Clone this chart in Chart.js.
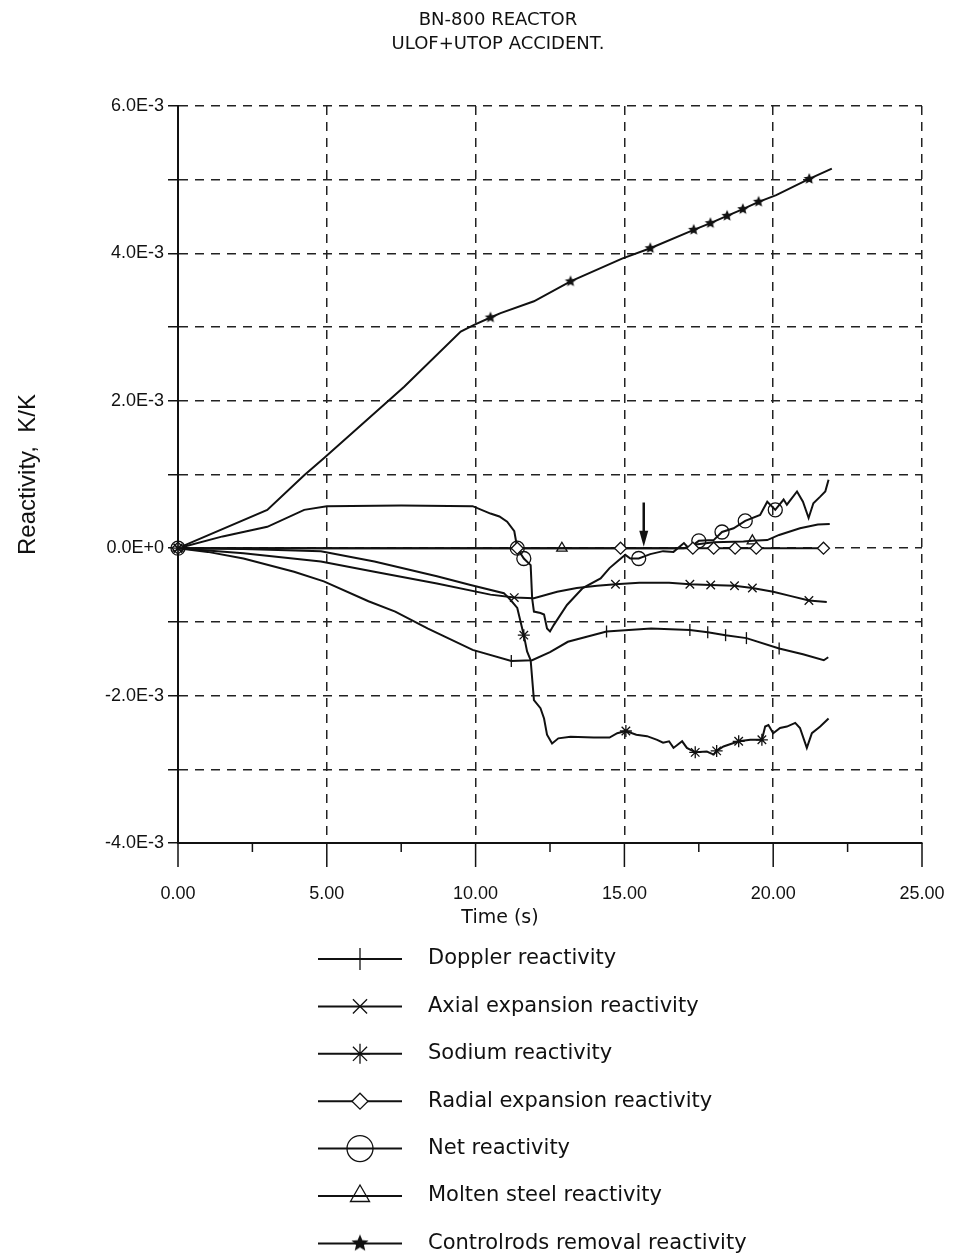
<!DOCTYPE html>
<html>
<head>
<meta charset="utf-8">
<title>BN-800 reactor ULOF+UTOP accident</title>
<script src="https://cdn.jsdelivr.net/npm/chart.js@4.4.1/dist/chart.umd.min.js"></script>
<style>
  html, body { margin: 0; padding: 0; background: #fff; }
</style>
</head>
<body>
<canvas id="chart" width="955" height="1257"></canvas>
<script>
// values are in units of 1E-3 K/K, time in seconds
const UNIT = 1e-3;

const titleLines = ["BN-800 REACTOR", "ULOF+UTOP ACCIDENT."];
const xTitle = "Time (s)";
const yTitle = "Reactivity,  K/K";
const seriesNames = [
  "Doppler reactivity",
  "Axial expansion reactivity",
  "Sodium reactivity",
  "Radial expansion reactivity",
  "Net reactivity",
  "Molten steel reactivity",
  "Controlrods removal reactivity"
];

const dopplerTime  = [0, 1.0, 2.2, 3.9, 4.9, 6.4, 7.3, 8.4, 9.9, 11.2, 11.9, 12.5, 13.1, 14.4, 15.9, 17.2, 17.8, 18.4, 19.1, 20.2, 21.0, 21.7, 21.85];
const dopplerValue = [0, -0.05, -0.14, -0.32, -0.45, -0.72, -0.86, -1.09, -1.38, -1.53, -1.52, -1.41, -1.27, -1.13, -1.09, -1.11, -1.14, -1.18, -1.22, -1.36, -1.44, -1.52, -1.48];
const dopplerMarks = [0, 11.2, 14.4, 17.2, 17.8, 18.4, 19.1, 20.2];

const axialTime  = [0, 2.2, 4.8, 6.6, 8.7, 10.5, 11.3, 11.96, 12.74, 13.4, 14.08, 14.7, 15.5, 16.5, 17.2, 17.9, 18.7, 19.3, 20.0, 20.6, 21.2, 21.8];
const axialValue = [0, -0.07, -0.18, -0.32, -0.48, -0.63, -0.67, -0.68, -0.59, -0.54, -0.51, -0.49, -0.47, -0.47, -0.49, -0.50, -0.51, -0.54, -0.59, -0.65, -0.71, -0.73];
const axialMarks = [0, 11.3, 14.7, 17.2, 17.9, 18.7, 19.3, 21.2];

const sodiumTime  = [0, 2.2, 4.8, 6.6, 8.7, 9.83, 10.95, 11.17, 11.4, 11.62, 11.73, 11.85, 11.96, 12.18, 12.3, 12.4, 12.57, 12.78, 13.19, 13.97, 14.5, 14.76, 15.05, 15.4, 15.76, 16.1, 16.3, 16.5, 16.65, 16.94, 17.1, 17.38, 17.77, 18.0, 18.1, 18.33, 18.84, 19.23, 19.62, 19.73, 19.84, 20.0, 20.23, 20.46, 20.74, 20.9, 21.13, 21.3, 21.58, 21.86];
const sodiumValue = [0, -0.01, -0.04, -0.18, -0.38, -0.50, -0.61, -0.70, -0.81, -1.18, -1.40, -1.52, -2.06, -2.17, -2.31, -2.53, -2.65, -2.58, -2.56, -2.57, -2.57, -2.51, -2.48, -2.53, -2.55, -2.60, -2.64, -2.62, -2.71, -2.62, -2.71, -2.77, -2.76, -2.80, -2.75, -2.69, -2.62, -2.60, -2.60, -2.42, -2.40, -2.51, -2.44, -2.42, -2.37, -2.44, -2.71, -2.51, -2.42, -2.31];
const sodiumMarks = [0, 11.62, 15.05, 17.38, 18.1, 18.84, 19.62];

const radialTime  = [0, 11.4, 14.87, 17.3, 18.0, 18.72, 19.43, 21.69, 21.85];
const radialValue = [0, 0, 0, 0, 0, 0, 0, 0, 0];
const radialMarks = [0, 11.4, 14.87, 17.3, 18.0, 18.72, 19.43, 21.69];

const netTime  = [0, 1.5, 3.0, 4.24, 5.0, 7.5, 9.9, 10.5, 10.8, 11.06, 11.3, 11.4, 11.62, 11.85, 11.9, 11.96, 12.18, 12.3, 12.4, 12.5, 12.63, 13.07, 13.6, 14.2, 14.5, 14.76, 15.03, 15.2, 15.48, 15.87, 16.3, 16.65, 17.0, 17.16, 17.5, 18.0, 18.28, 18.67, 19.06, 19.56, 19.8, 20.07, 20.35, 20.46, 20.8, 21.0, 21.19, 21.35, 21.58, 21.75, 21.86];
const netValue = [0, 0.16, 0.29, 0.52, 0.57, 0.58, 0.57, 0.47, 0.43, 0.36, 0.23, 0, -0.14, -0.23, -0.68, -0.86, -0.88, -0.90, -1.09, -1.13, -1.04, -0.77, -0.54, -0.41, -0.27, -0.18, -0.09, -0.14, -0.14, -0.08, -0.04, -0.05, 0.07, 0, 0.10, 0.11, 0.22, 0.27, 0.37, 0.45, 0.63, 0.52, 0.66, 0.59, 0.77, 0.63, 0.41, 0.61, 0.70, 0.77, 0.93];
const netMarks = [0, 11.4, 11.62, 15.48, 17.5, 18.28, 19.06, 20.07];

const moltenTime  = [0, 12.9, 17.0, 17.4, 18.0, 19.0, 19.3, 19.8, 20.2, 20.9, 21.5, 21.9];
const moltenValue = [0, 0, 0, 0.05, 0.08, 0.09, 0.10, 0.11, 0.18, 0.27, 0.32, 0.33];
const moltenMarks = [0, 12.9, 19.3];

const rodTime  = [0, 3.0, 4.24, 4.9, 7.6, 9.5, 9.95, 10.5, 10.84, 11.96, 13.19, 14.92, 15.87, 17.33, 17.89, 18.45, 18.98, 19.51, 20.1, 21.21, 21.97];
const rodValue = [0, 0.52, 0.99, 1.22, 2.19, 2.94, 3.03, 3.13, 3.19, 3.35, 3.62, 3.93, 4.07, 4.32, 4.41, 4.51, 4.60, 4.70, 4.79, 5.01, 5.15];
const rodMarks = [0, 10.5, 13.19, 15.87, 17.33, 17.89, 18.45, 18.98, 19.51, 21.21];

// arrow pointing at the net reactivity recovery
const arrowTime = 15.65;
const arrowFrom = 0.62;
const arrowTo = 0.02;

const INK = "#111";
const TEXT_FONT = "'DejaVu Sans'";

function starImage(r) {
  const c = document.createElement("canvas");
  const s = Math.ceil(r * 2 + 2);
  c.width = s; c.height = s;
  const g = c.getContext("2d");
  g.fillStyle = INK;
  g.beginPath();
  for (let i = 0; i < 10; i++) {
    const a = -Math.PI / 2 + i * Math.PI / 5;
    const rr = i % 2 ? r * 0.45 : r;
    g.lineTo(s / 2 + rr * Math.cos(a), s / 2 + rr * Math.sin(a));
  }
  g.closePath();
  g.fill();
  return c;
}

const markerStyles = [
  { shape: "line", rot: 90, r: 6, legendR: 11, fill: "rgba(0,0,0,0)" },
  { shape: "crossRot", rot: 0, r: 6, legendR: 10, fill: "rgba(0,0,0,0)" },
  { shape: "star", rot: 0, r: 6, legendR: 10, fill: "rgba(0,0,0,0)" },
  { shape: "rectRot", rot: 0, r: 6, legendR: 8, fill: "#fff" },
  { shape: "circle", rot: 0, r: 7, legendR: 13, fill: "rgba(0,0,0,0)" },
  { shape: "triangle", rot: 0, r: 6, legendR: 11, fill: "rgba(0,0,0,0)" },
  { shape: starImage(6), rot: 0, r: 6, legendR: 6, fill: INK, legendShape: starImage(9) }
];

const seriesTime = [dopplerTime, axialTime, sodiumTime, radialTime, netTime, moltenTime, rodTime];
const seriesValue = [dopplerValue, axialValue, sodiumValue, radialValue, netValue, moltenValue, rodValue];
const seriesMarks = [dopplerMarks, axialMarks, sodiumMarks, radialMarks, netMarks, moltenMarks, rodMarks];

function makeSet(i) {
  const st = markerStyles[i];
  const marks = seriesMarks[i];
  return {
    label: seriesNames[i],
    data: seriesTime[i].map((t, k) => ({ x: t, y: seriesValue[i][k] * UNIT })),
    borderColor: INK,
    borderWidth: 2,
    backgroundColor: "rgba(0,0,0,0)",
    fill: false,
    tension: 0,
    clip: false,
    pointStyle: st.shape,
    pointRotation: st.rot,
    pointRadius: c => (c.raw && marks.includes(c.raw.x)) ? st.r : 0,
    pointBorderWidth: 1.3,
    pointBorderColor: INK,
    pointBackgroundColor: st.fill
  };
}

const decor = {
  id: "decor",
  afterDraw(chart) {
    const { ctx, chartArea: a, scales: { x, y } } = chart;
    ctx.save();
    ctx.strokeStyle = INK;
    ctx.fillStyle = INK;

    // tick marks on the time axis: long at labels, short in between
    ctx.lineWidth = 1.5;
    for (let t = 0; t <= 25; t += 2.5) {
      const px = x.getPixelForValue(t);
      ctx.beginPath();
      ctx.moveTo(px, a.bottom);
      ctx.lineTo(px, a.bottom + (t % 5 === 0 ? 24 : 9));
      ctx.stroke();
    }

    // arrow
    const ax = x.getPixelForValue(arrowTime);
    const ay1 = y.getPixelForValue(arrowFrom * UNIT);
    const ay2 = y.getPixelForValue(arrowTo * UNIT);
    ctx.lineWidth = 2.5;
    ctx.beginPath();
    ctx.moveTo(ax, ay1);
    ctx.lineTo(ax, ay2 - 12);
    ctx.stroke();
    ctx.beginPath();
    ctx.moveTo(ax - 4.5, ay2 - 16);
    ctx.lineTo(ax + 4.5, ay2 - 16);
    ctx.lineTo(ax, ay2);
    ctx.closePath();
    ctx.fill();

    // titles
    ctx.textAlign = "center";
    ctx.textBaseline = "middle";
    ctx.font = "18px " + TEXT_FONT;
    ctx.fillText(titleLines[0], 498, 20);
    ctx.fillText(titleLines[1], 498, 44);
    ctx.font = "19px " + TEXT_FONT;
    ctx.fillText(xTitle, 500, 918);

    // legend
    const legendTop = 959, legendGap = 47.4;
    ctx.font = "21px " + TEXT_FONT;
    ctx.textAlign = "left";
    seriesNames.forEach((name, i) => {
      const ly = legendTop + i * legendGap;
      const st = markerStyles[i];
      ctx.lineWidth = 2;
      ctx.strokeStyle = INK;
      ctx.beginPath();
      ctx.moveTo(318, ly);
      ctx.lineTo(402, ly);
      ctx.stroke();
      ctx.lineWidth = 1.3;
      ctx.fillStyle = st.fill;
      Chart.helpers.drawPoint(ctx, {
        pointStyle: st.legendShape || st.shape,
        rotation: st.rot,
        radius: st.legendR,
        borderWidth: 1.3
      }, 360, ly);
      ctx.fillStyle = INK;
      ctx.fillText(name, 428, ly);
    });
    ctx.restore();
  }
};

const tickFont = { family: "Liberation Sans", size: 18 };

new Chart(document.getElementById("chart"), {
  type: "line",
  data: { datasets: seriesNames.map((n, i) => makeSet(i)) },
  options: {
    responsive: false,
    animation: false,
    events: [],
    layout: { padding: { left: 0, right: 33, top: 106, bottom: 0 } },
    plugins: {
      legend: { display: false },
      tooltip: { enabled: false },
      title: { display: false }
    },
    scales: {
      x: {
        type: "linear",
        min: 0,
        max: 25,
        afterFit: s => { s.height = 1257 - 843; },
        ticks: {
          stepSize: 2.5,
          autoSkip: false,
          maxRotation: 0,
          padding: 2,
          color: INK,
          font: tickFont,
          callback: v => (v % 5 === 0 ? v.toFixed(2) : "")
        },
        grid: {
          color: c => (c.tick && c.tick.value % 5 === 0) ? "#222" : "rgba(0,0,0,0)",
          tickColor: "rgba(0,0,0,0)",
          lineWidth: 1.5,
          tickWidth: 1.5,
          tickLength: 38
        },
        border: { color: INK, width: 2, dash: [9, 7] }
      },
      y: {
        type: "linear",
        min: -0.004,
        max: 0.006,
        afterFit: s => { s.width = 178; },
        ticks: {
          stepSize: 0.001,
          autoSkip: false,
          padding: 4,
          color: INK,
          font: tickFont,
          callback: v => {
            const k = Math.round(v / UNIT);
            if (k % 2 !== 0) return "";
            return k === 0 ? "0.0E+0" : k.toFixed(1) + "E-3";
          }
        },
        grid: {
          color: "#222",
          tickColor: INK,
          lineWidth: 1.5,
          tickWidth: 1.5,
          tickLength: 10
        },
        border: { color: INK, width: 2, dash: [9, 7] },
        title: {
          display: true,
          text: yTitle,
          color: INK,
          font: { family: "Liberation Sans", size: 24 },
          padding: { top: 14, bottom: 0 }
        }
      }
    }
  },
  plugins: [decor]
});
</script>
</body>
</html>
